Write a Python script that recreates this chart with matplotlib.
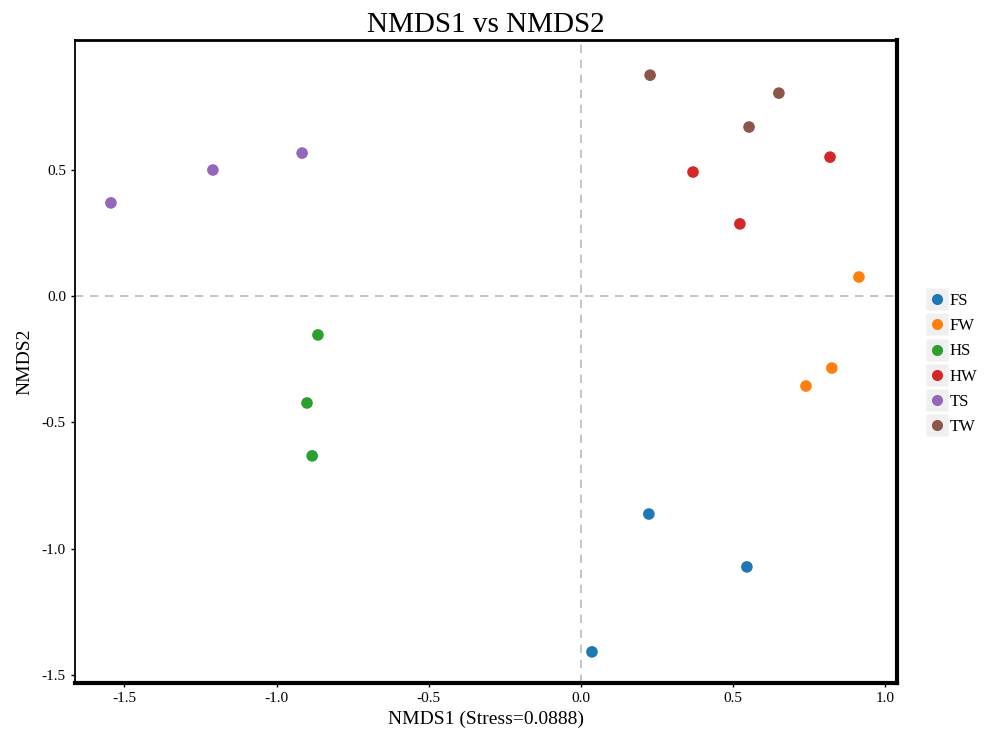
import matplotlib
matplotlib.use("Agg")
import matplotlib.pyplot as plt
from matplotlib.lines import Line2D

plt.rcParams['font.family'] = ['Liberation Serif', 'DejaVu Serif']

# NMDS coordinates per group
groups = ["FS", "FW", "HS", "HW", "TS", "TW"]
colors = ["#1f77b4", "#ff7f0e", "#2ca02c", "#d62728", "#9467bd", "#8c564b"]
nmds1 = {
    "FS": [0.223, 0.545, 0.036],
    "FW": [0.913, 0.824, 0.739],
    "HS": [-0.864, -0.900, -0.883],
    "HW": [0.368, 0.818, 0.522],
    "TS": [-1.544, -1.209, -0.916],
    "TW": [0.227, 0.650, 0.552],
}
nmds2 = {
    "FS": [-0.862, -1.071, -1.407],
    "FW": [0.075, -0.285, -0.356],
    "HS": [-0.154, -0.423, -0.632],
    "HW": [0.490, 0.549, 0.285],
    "TS": [0.368, 0.498, 0.565],
    "TW": [0.873, 0.802, 0.668],
}
xticks = [-1.5, -1.0, -0.5, 0.0, 0.5, 1.0]
yticks = [-1.5, -1.0, -0.5, 0.0, 0.5]

fig = plt.figure(figsize=(9.84, 7.29), dpi=100)
ax = fig.add_axes([75/984, 1-683/729, (897-75)/984, (683-40)/729])

ax.axhline(0, color="#bbbbbb", linestyle=(0, (5, 4)), linewidth=1.2, zorder=1)
ax.axvline(0, color="#bbbbbb", linestyle=(0, (5, 4)), linewidth=1.2, zorder=1)

for g, c in zip(groups, colors):
    ax.scatter(nmds1[g], nmds2[g], s=70, color=c, edgecolors="none", zorder=3)

ax.set_xlim(-1.662, 1.038)
ax.set_ylim(-1.53, 1.012)
ax.set_xticks(xticks)
ax.set_xticklabels([f"{v:.1f}" for v in xticks])
ax.set_yticks(yticks)
ax.set_yticklabels([f"{v:.1f}" for v in yticks])
ax.tick_params(direction="out", length=3, width=1, labelsize=11, colors="black")

ax.spines["left"].set_linewidth(1.3)
ax.spines["top"].set_linewidth(2)
ax.spines["right"].set_linewidth(3)
ax.spines["bottom"].set_linewidth(3)

ax.set_title("NMDS1 vs NMDS2", fontsize=21, pad=6)
ax.set_xlabel("NMDS1 (Stress=0.0888)", fontsize=14, labelpad=4)
ax.set_ylabel("NMDS2", fontsize=14, labelpad=6)

# legend keys: grey square with the coloured dot on it
handles = []
for c in colors:
    bg = Line2D([0], [0], marker="s", linestyle="none", markersize=16,
                markerfacecolor="#f0f0f0", markeredgecolor="none")
    dot = Line2D([0], [0], marker="o", linestyle="none", markersize=8,
                 markerfacecolor=c, markeredgecolor="none")
    handles.append((bg, dot))
leg = fig.legend(handles, groups, loc="center left", bbox_to_anchor=(922/984, 1-364/729),
                 frameon=False, fontsize=12, handletextpad=0.25, labelspacing=0.55,
                 handlelength=1.0, borderaxespad=0)

plt.savefig("out.png", dpi=100)
